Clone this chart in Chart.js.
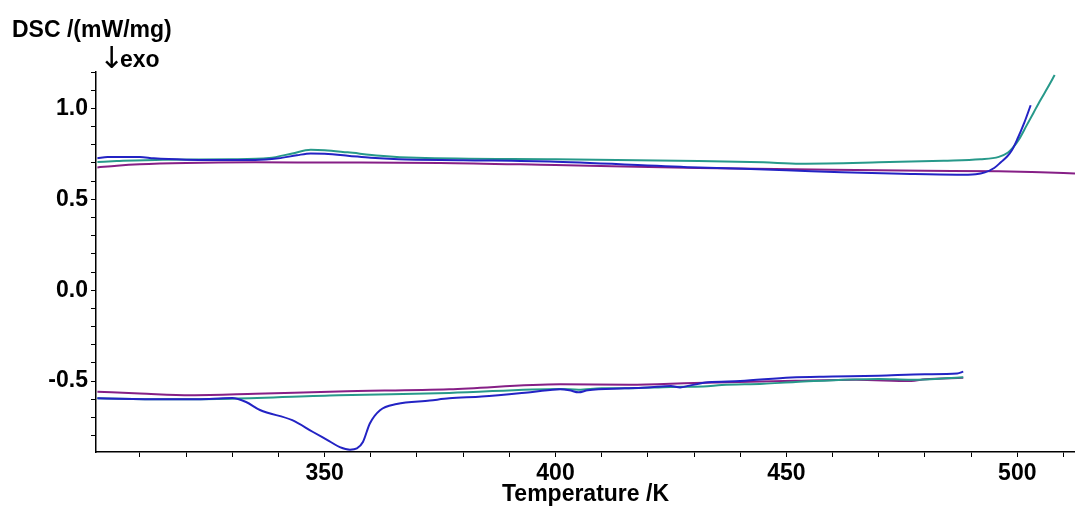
<!DOCTYPE html>
<html>
<head>
<meta charset="utf-8">
<script src="https://cdn.jsdelivr.net/npm/chart.js@4.4.1/dist/chart.umd.min.js"></script>
<style>
  body { margin: 0; background: #fff; }
  #wrap { width: 1075px; height: 510px; }
</style>
</head>
<body>
<div id="wrap"><canvas id="graficoDSC" width="1075" height="510"></canvas></div>
<script>
// valores (Temperatura em K, DSC em mW/mg)

// aquecimento (curvas de cima)
var tempRoxoAq = [300.8, 305, 310, 320, 335, 350, 375, 400, 431, 460, 480, 496, 505, 512.5];
var dscRoxoAq = [0.675, 0.685, 0.693, 0.700, 0.703, 0.702, 0.700, 0.688, 0.672, 0.662, 0.657, 0.654, 0.648, 0.642];

var tempAzulAq = [300.8, 303, 310, 313, 320, 335, 340, 344, 347, 350, 355, 360, 366, 380, 400, 431, 450, 462, 475, 487, 491, 493, 495, 496.5, 497.8, 498.8, 500, 501.5, 502.9];
var dscAzulAq = [0.725, 0.732, 0.733, 0.725, 0.718, 0.716, 0.725, 0.742, 0.752, 0.750, 0.740, 0.728, 0.720, 0.715, 0.707, 0.675, 0.660, 0.648, 0.640, 0.635, 0.638, 0.648, 0.672, 0.705, 0.735, 0.768, 0.830, 0.920, 1.017];

var tempVerdeAq = [300.8, 305, 315, 330, 338, 343, 347, 350, 355, 362, 370, 400, 431, 445, 453, 470, 484, 492, 496, 498, 499, 500.5, 502, 503.5, 505, 506.5, 508.1];
var dscVerdeAq = [0.705, 0.710, 0.718, 0.720, 0.727, 0.752, 0.772, 0.770, 0.758, 0.740, 0.728, 0.720, 0.711, 0.703, 0.696, 0.703, 0.712, 0.720, 0.733, 0.757, 0.782, 0.835, 0.905, 0.975, 1.045, 1.110, 1.183];

// resfriamento (curvas de baixo)
var tempRoxoRes = [300.8, 310, 321, 335, 353, 377, 401, 416, 430, 452, 465, 477, 480, 488.3];
var dscRoxoRes = [-0.559, -0.568, -0.578, -0.570, -0.557, -0.545, -0.517, -0.520, -0.510, -0.498, -0.493, -0.500, -0.490, -0.482];

var tempAzulRes = [300.8, 315, 325, 330, 333, 336, 343, 347.5, 351, 353.3, 355.5, 357, 358.3, 359.8, 362, 365.6, 372.8, 377, 384, 395, 401, 403, 405, 407, 415, 420, 425, 427, 429, 433, 440, 451, 460, 470, 480, 487, 488.3];
var dscAzulRes = [-0.594, -0.600, -0.598, -0.593, -0.615, -0.659, -0.715, -0.780, -0.830, -0.863, -0.877, -0.870, -0.835, -0.733, -0.660, -0.626, -0.607, -0.595, -0.585, -0.560, -0.545, -0.550, -0.562, -0.550, -0.540, -0.535, -0.527, -0.535, -0.525, -0.507, -0.500, -0.480, -0.475, -0.470, -0.462, -0.458, -0.448];

var tempVerdeRes = [300.8, 315, 330, 353, 377, 401, 405, 410, 416, 425, 432, 436, 445, 452, 470, 477, 488.3];
var dscVerdeRes = [-0.594, -0.600, -0.597, -0.578, -0.565, -0.543, -0.548, -0.540, -0.540, -0.532, -0.530, -0.522, -0.515, -0.505, -0.488, -0.493, -0.479];

// eixos
var eixoX = { min: 300.5, max: 512.5, passo: 10, rotulo: 50 };
var eixoY = { min: -0.89, max: 1.2, passo: 0.1, rotulo: 0.5 };

var corRoxo = "#861f86";
var corAzul = "#2323c4";
var corVerde = "#27998a";
var fonte = "'Liberation Sans', Arial, sans-serif";

function MontarPontos(temps, valores) {
    var pontos = [];
    var indice = 0;
    while (indice < temps.length) {
        pontos.push({ x: temps[indice], y: valores[indice] });
        indice++;
    }
    return pontos;
}

function Serie(temps, valores, cor) {
    return {
        data: MontarPontos(temps, valores),
        borderColor: cor,
        backgroundColor: cor,
        borderWidth: 2,
        pointRadius: 0,
        fill: false,
        cubicInterpolationMode: "monotone"
    };
}

// textos do topo (titulo do eixo y)
var textosTopo = {
    id: "textosTopo",
    afterDraw: function (chart) {
        var ctx = chart.ctx;
        ctx.save();
        ctx.fillStyle = "#000";
        ctx.textBaseline = "alphabetic";
        ctx.textAlign = "left";
        ctx.font = "bold 23px " + fonte;
        ctx.fillText("DSC /(mW/mg)", 12, 37);
        ctx.font = "30px 'DejaVu Sans', " + fonte;
        ctx.fillText("\u2193", 99, 68);
        ctx.font = "bold 23px " + fonte;
        ctx.fillText("exo", 120, 67);
        ctx.restore();
    }
};

var ctx = document.getElementById("graficoDSC").getContext("2d");

var grafico = new Chart(ctx, {
    type: "line",
    data: {
        datasets: [
            Serie(tempAzulAq, dscAzulAq, corAzul),
            Serie(tempVerdeAq, dscVerdeAq, corVerde),
            Serie(tempRoxoAq, dscRoxoAq, corRoxo),
            Serie(tempAzulRes, dscAzulRes, corAzul),
            Serie(tempVerdeRes, dscVerdeRes, corVerde),
            Serie(tempRoxoRes, dscRoxoRes, corRoxo)
        ]
    },
    options: {
        responsive: false,
        animation: false,
        layout: { padding: { top: 72, left: 0, right: 0, bottom: 0 } },
        plugins: {
            legend: { display: false },
            tooltip: { enabled: false }
        },
        scales: {
            x: {
                type: "linear",
                min: eixoX.min,
                max: eixoX.max,
                afterFit: function (escala) { escala.height = 58; },
                ticks: {
                    stepSize: eixoX.passo,
                    includeBounds: false,
                    autoSkip: false,
                    maxRotation: 0,
                    padding: 3,
                    color: "#000",
                    font: { family: fonte, size: 23, weight: "bold" },
                    callback: function (v) { return v % eixoX.rotulo === 0 ? v : ""; }
                },
                grid: { drawOnChartArea: false, tickLength: 5, color: "#000" },
                border: { color: "#000", width: 1.5 },
                title: {
                    display: true,
                    text: "Temperature /K",
                    color: "#000",
                    padding: { top: 0, bottom: 2 },
                    font: { family: fonte, size: 23, weight: "bold" }
                }
            },
            y: {
                min: eixoY.min,
                max: eixoY.max,
                afterFit: function (escala) { escala.width = 96; },
                ticks: {
                    stepSize: eixoY.passo,
                    includeBounds: false,
                    autoSkip: false,
                    padding: 3,
                    color: "#000",
                    font: { family: fonte, size: 23, weight: "bold" },
                    callback: function (v) {
                        var r = v / eixoY.rotulo;
                        return Math.abs(r - Math.round(r)) < 1e-6 ? v.toFixed(1) : "";
                    }
                },
                grid: { drawOnChartArea: false, tickLength: 5, color: "#000" },
                border: { color: "#000", width: 1.5 }
            }
        }
    },
    plugins: [textosTopo]
});
</script>
</body>
</html>
